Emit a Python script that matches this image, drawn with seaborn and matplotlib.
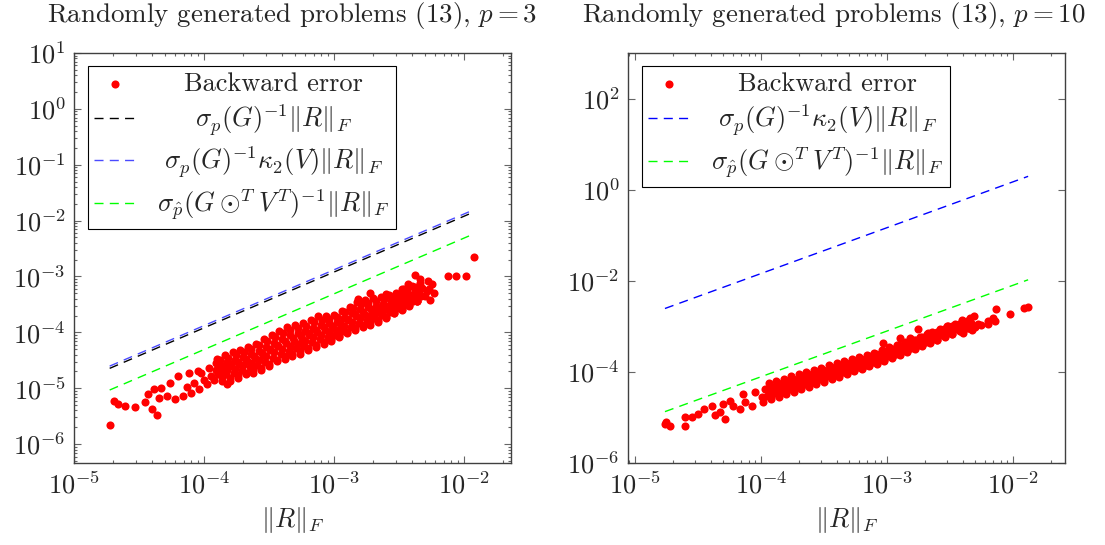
import numpy as np
import pandas as pd
import seaborn as sns
import matplotlib.pyplot as plt
from matplotlib.ticker import FixedLocator, LogLocator, NullLocator, FuncFormatter, NullFormatter

# values, stored as log10 exponents

# p = 3 : log10 ||R||_F
p3_res_exp = [
    -4.726, -4.695, -4.662, -4.605, -4.533, -4.456, -4.432, -4.399, -4.36, -4.386,
    -4.347, -4.334, -4.283, -4.265, -4.224, -4.20, -4.162, -4.116, -4.103, -4.04,
    -4.05, -3.96, -3.975, -3.91, -3.82, -4.0, -3.95, -4.08, -4.13, -4.02,
    -1.92, -2.121, -2.062, -1.987, -2.378, -2.43, -2.34, -2.25, -2.232, -2.263,
    -2.288, -2.48, -2.365, -2.6, -2.72, -2.816, -2.443,
    -3.92, -3.89, -3.91, -3.88, -3.90,
    -3.86, -3.83, -3.85, -3.82, -3.84,
    -3.80, -3.77, -3.79, -3.76, -3.78,
    -3.74, -3.71, -3.73, -3.70, -3.72,
    -3.68, -3.65, -3.67, -3.64, -3.66,
    -3.62, -3.59, -3.61, -3.58, -3.60,
    -3.56, -3.53, -3.55, -3.52, -3.54,
    -3.50, -3.47, -3.49, -3.46, -3.48,
    -3.44, -3.41, -3.43, -3.40, -3.42,
    -3.38, -3.35, -3.37, -3.34, -3.36,
    -3.32, -3.29, -3.31, -3.28, -3.30,
    -3.26, -3.23, -3.25, -3.22, -3.24,
    -3.20, -3.17, -3.19, -3.16, -3.18,
    -3.14, -3.11, -3.13, -3.10, -3.12,
    -3.08, -3.05, -3.07, -3.04, -3.06,
    -3.02, -2.99, -3.01, -2.98, -3.00,
    -2.96, -2.93, -2.95, -2.92, -2.94,
    -2.90, -2.87, -2.89, -2.86, -2.88,
    -2.84, -2.81, -2.83, -2.80, -2.82,
    -2.78, -2.75, -2.77, -2.74, -2.76,
    -2.72, -2.69, -2.71, -2.68, -2.70,
    -2.66, -2.63, -2.65, -2.62, -2.64,
    -2.60, -2.57, -2.59, -2.56, -2.58,
    -2.54, -2.51, -2.53, -2.50, -2.52,
    -2.48, -2.45, -2.47, -2.44, -2.46,
    -2.42, -2.39, -2.41, -2.38, -2.40,
    -2.36, -2.33, -2.35, -2.32, -2.34,
    -2.30, -2.27, -2.28,
]
# p = 3 : log10 backward error
p3_err_exp = [
    -5.661, -5.237, -5.29, -5.31, -5.33, -5.25, -5.11, -5.37, -5.47, -5.02,
    -5.17, -4.99, -5.14, -4.91, -5.19, -4.78, -5.13, -4.73, -5.08, -5.02,
    -4.69, -4.63, -4.93, -4.54, -4.93, -4.85, -4.78, -4.90, -4.98, -4.72,
    -2.643, -3.0, -3.0, -2.99, -2.973, -3.14, -3.04, -3.14, -3.3, -3.42,
    -3.26, -3.22, -3.44, -3.32, -3.3, -3.41, -3.26,
    -4.85, -4.75, -4.67, -4.58, -4.48,
    -4.87, -4.75, -4.64, -4.53, -4.41,
    -4.87, -4.73, -4.61, -4.49, -4.35,
    -4.81, -4.68, -4.56, -4.44, -4.31,
    -4.75, -4.62, -4.51, -4.39, -4.26,
    -4.72, -4.58, -4.46, -4.34, -4.20,
    -4.68, -4.53, -4.40, -4.27, -4.12,
    -4.60, -4.45, -4.32, -4.19, -4.04,
    -4.52, -4.38, -4.25, -4.12, -3.97,
    -4.48, -4.33, -4.19, -4.05, -3.90,
    -4.43, -4.28, -4.15, -4.01, -3.86,
    -4.39, -4.24, -4.11, -3.98, -3.83,
    -4.32, -4.18, -4.05, -3.92, -3.77,
    -4.26, -4.12, -3.99, -3.86, -3.71,
    -4.21, -4.08, -3.96, -3.83, -3.70,
    -4.16, -4.04, -3.93, -3.81, -3.69,
    -4.09, -3.97, -3.86, -3.74, -3.62,
    -4.02, -3.90, -3.78, -3.66, -3.54,
    -3.96, -3.83, -3.71, -3.58, -3.45,
    -3.91, -3.78, -3.67, -3.55, -3.42,
    -3.86, -3.74, -3.63, -3.52, -3.39,
    -3.81, -3.69, -3.59, -3.49, -3.37,
    -3.74, -3.63, -3.54, -3.44, -3.33,
    -3.66, -3.57, -3.48, -3.39, -3.29,
    -3.60, -3.50, -3.42, -3.33, -3.23,
    -3.52, -3.43, -3.35, -3.26, -3.17,
    -3.44, -3.35, -3.28, -3.20, -3.11,
    -3.35, -3.22, -3.08,
]
# p = 3 : more points in the dense part of the cloud
p3_fill_res_exp = [
    -3.86, -3.88, -3.855, -3.875,   -3.80, -3.82, -3.795, -3.815,
    -3.74, -3.76, -3.735, -3.755,   -3.68, -3.70, -3.675, -3.695,
    -3.62, -3.64, -3.615, -3.635,   -3.56, -3.58, -3.555, -3.575,
    -3.50, -3.52, -3.495, -3.515,   -3.44, -3.46, -3.435, -3.455,
    -3.38, -3.40, -3.375, -3.395,   -3.32, -3.34, -3.315, -3.335,
    -3.26, -3.28, -3.255, -3.275,   -3.20, -3.22, -3.195, -3.215,
    -3.14, -3.16, -3.135, -3.155,   -3.08, -3.10, -3.075, -3.095,
    -3.02, -3.04, -3.015, -3.035,   -2.96, -2.98, -2.955, -2.975,
    -2.90, -2.92, -2.895, -2.915,   -2.84, -2.86, -2.835, -2.855,
    -2.78, -2.80, -2.775, -2.795,   -2.72, -2.74, -2.715, -2.735,
    -2.66, -2.68, -2.655, -2.675,   -2.60, -2.62, -2.595, -2.615,
    -2.54, -2.56, -2.535, -2.555,   -2.48, -2.50, -2.475, -2.495,
    -2.42, -2.44, -2.415, -2.435,   -2.36, -2.38, -2.355, -2.375,
]
p3_fill_err_exp = [
    -4.80, -4.70, -4.61, -4.50,   -4.81, -4.68, -4.57, -4.45,
    -4.77, -4.65, -4.53, -4.40,   -4.72, -4.59, -4.48, -4.35,
    -4.67, -4.54, -4.43, -4.30,   -4.63, -4.49, -4.37, -4.23,
    -4.57, -4.43, -4.30, -4.16,   -4.49, -4.35, -4.22, -4.08,
    -4.43, -4.29, -4.15, -4.01,   -4.38, -4.24, -4.10, -3.96,
    -4.34, -4.20, -4.06, -3.92,   -4.28, -4.15, -4.02, -3.88,
    -4.22, -4.09, -3.96, -3.82,   -4.17, -4.04, -3.91, -3.78,
    -4.12, -4.00, -3.88, -3.76,   -4.07, -3.95, -3.84, -3.72,
    -4.00, -3.88, -3.76, -3.64,   -3.93, -3.81, -3.68, -3.56,
    -3.87, -3.75, -3.63, -3.50,   -3.82, -3.71, -3.59, -3.47,
    -3.78, -3.66, -3.56, -3.44,   -3.72, -3.61, -3.52, -3.41,
    -3.65, -3.56, -3.46, -3.36,   -3.58, -3.49, -3.41, -3.31,
    -3.51, -3.43, -3.34, -3.25,   -3.44, -3.35, -3.27, -3.19,
]

# p = 10 : log10 ||R||_F
p10_res_exp = [
    -4.762, -4.722, -4.75, -4.603, -4.603, -4.545, -4.498, -4.45, -4.391, -4.365,
    -4.325, -4.286, -4.299, -4.246, -4.22, -4.167, -4.14, -4.127, -4.074, -4.048,
    -3.995,
    -1.884, -1.91, -2.024, -2.138, -2.156, -2.143, -2.307, -2.196, -2.328, -2.275,
    -2.407, -2.513, -2.394, -2.751, -2.672, -2.817, -2.897, -3.034, -2.25, -2.20,
    -2.30,
    -3.98, -3.95, -3.97, -3.94,
    -3.92, -3.89, -3.91, -3.88,
    -3.86, -3.83, -3.85, -3.82,
    -3.80, -3.77, -3.79, -3.76,
    -3.74, -3.71, -3.73, -3.70,
    -3.68, -3.65, -3.67, -3.64,
    -3.62, -3.59, -3.61, -3.58,
    -3.56, -3.53, -3.55, -3.52,
    -3.50, -3.47, -3.49, -3.46,
    -3.44, -3.41, -3.43, -3.40,
    -3.38, -3.35, -3.37, -3.34,
    -3.32, -3.29, -3.31, -3.28,
    -3.26, -3.23, -3.25, -3.22,
    -3.20, -3.17, -3.19, -3.16,
    -3.14, -3.11, -3.13, -3.10,
    -3.08, -3.05, -3.07, -3.04,
    -3.02, -2.99, -3.01, -2.98,
    -2.96, -2.93, -2.95, -2.92,
    -2.90, -2.87, -2.89, -2.86,
    -2.84, -2.81, -2.83, -2.80,
    -2.78, -2.75, -2.77, -2.74,
    -2.72, -2.69, -2.71, -2.68,
    -2.66, -2.63, -2.64,
    -2.60, -2.57, -2.58,
    -2.54, -2.51, -2.52,
    -2.48, -2.45, -2.46,
    -2.42, -2.39, -2.40,
    -2.36, -2.33, -2.34,
]
# p = 10 : log10 backward error
p10_err_exp = [
    -5.15, -5.19, -5.10, -5.19, -5.0, -4.99, -4.92, -4.82, -4.75, -4.95,
    -4.89, -5.04, -4.71, -4.64, -4.75, -4.82, -4.49, -4.67, -4.75, -4.45,
    -4.56,
    -2.587, -2.60, -2.73, -2.62, -2.82, -2.89, -2.77, -2.95, -3.08, -2.94,
    -2.86, -2.99, -3.14, -3.06, -3.14, -3.25, -3.25, -3.36, -2.98, -2.88,
    -3.02,
    -4.66, -4.53, -4.38, -4.24,
    -4.60, -4.47, -4.33, -4.20,
    -4.55, -4.42, -4.28, -4.15,
    -4.49, -4.37, -4.23, -4.10,
    -4.44, -4.31, -4.18, -4.05,
    -4.38, -4.26, -4.13, -4.00,
    -4.33, -4.21, -4.08, -3.96,
    -4.27, -4.15, -4.03, -3.91,
    -4.22, -4.10, -3.98, -3.86,
    -4.16, -4.05, -3.93, -3.81,
    -4.11, -4.00, -3.88, -3.77,
    -4.05, -3.94, -3.83, -3.72,
    -3.99, -3.89, -3.78, -3.67,
    -3.94, -3.84, -3.73, -3.62,
    -3.88, -3.78, -3.68, -3.58,
    -3.82, -3.72, -3.62, -3.52,
    -3.76, -3.66, -3.56, -3.46,
    -3.69, -3.60, -3.50, -3.40,
    -3.62, -3.53, -3.44, -3.35,
    -3.56, -3.47, -3.38, -3.29,
    -3.49, -3.41, -3.31, -3.23,
    -3.43, -3.35, -3.25, -3.17,
    -3.36, -3.24, -3.12,
    -3.30, -3.18, -3.06,
    -3.23, -3.11, -3.00,
    -3.17, -3.05, -2.94,
    -3.10, -2.99, -2.88,
    -3.04, -2.93, -2.82,
]
# p = 10 : more points in the dense part of the cloud
p10_fill_res_exp = [
    -3.92, -3.94, -3.925,   -3.86, -3.88, -3.865,   -3.80, -3.82, -3.805,
    -3.74, -3.76, -3.745,   -3.68, -3.70, -3.685,   -3.62, -3.64, -3.625,
    -3.56, -3.58, -3.565,   -3.50, -3.52, -3.505,   -3.44, -3.46, -3.445,
    -3.38, -3.40, -3.385,   -3.32, -3.34, -3.325,   -3.26, -3.28, -3.265,
    -3.20, -3.22, -3.205,   -3.14, -3.16, -3.145,   -3.08, -3.10, -3.085,
    -3.02, -3.04, -3.025,   -2.96, -2.98, -2.965,   -2.90, -2.92, -2.905,
    -2.84, -2.86, -2.845,   -2.78, -2.80, -2.785,   -2.72, -2.74, -2.725,
    -2.66, -2.68, -2.665,   -2.60, -2.62, -2.605,   -2.54, -2.56, -2.545,
    -2.48, -2.50, -2.485,   -2.42, -2.44, -2.425,   -2.36, -2.38, -2.365,
]
p10_fill_err_exp = [
    -4.56, -4.43, -4.30,   -4.50, -4.37, -4.25,   -4.44, -4.32, -4.20,
    -4.39, -4.27, -4.15,   -4.34, -4.22, -4.10,   -4.29, -4.17, -4.05,
    -4.23, -4.12, -4.01,   -4.18, -4.06, -3.95,   -4.12, -4.01, -3.90,
    -4.07, -3.96, -3.85,   -4.02, -3.91, -3.80,   -3.96, -3.86, -3.76,
    -3.91, -3.81, -3.71,   -3.86, -3.75, -3.65,   -3.80, -3.70, -3.60,
    -3.74, -3.64, -3.54,   -3.67, -3.58, -3.49,   -3.61, -3.52, -3.42,
    -3.55, -3.46, -3.36,   -3.48, -3.39, -3.30,   -3.42, -3.33, -3.24,
    -3.35, -3.27, -3.19,   -3.29, -3.21, -3.13,   -3.22, -3.14, -3.06,
    -3.16, -3.08, -3.00,   -3.10, -3.02, -2.94,   -3.04, -2.96, -2.88,
]

# bound lines (end points)
p3_line_x = [1.88e-5, 1.11e-2]
p3_bound_black = [2.27e-5, 1.33e-2]
p3_bound_blue = [2.49e-5, 1.46e-2]
p3_bound_green = [9.3e-6, 5.4e-3]

p10_line_x = [1.73e-5, 1.32e-2]
p10_bound_blue = [2.46e-3, 1.96]
p10_bound_green = [1.34e-5, 1.05e-2]

# axis ticks
p3_xticks = [1e-5, 1e-4, 1e-3, 1e-2]
p3_yticks = [1e-6, 1e-5, 1e-4, 1e-3, 1e-2, 1e-1, 1e0, 1e1]
p10_xticks = [1e-5, 1e-4, 1e-3, 1e-2]
p10_yticks = [1e-6, 1e-4, 1e-2, 1e0, 1e2]

lab_back = 'Backward error'
lab_black = r'$\sigma_p(G)^{-1}\|R\|_F$'
lab_blue = r'$\sigma_p(G)^{-1}\kappa_2(V)\|R\|_F$'
lab_green = r'$\sigma_{\hat{p}}(G\:{\odot}^{T}\:V^{T})^{-1}\|R\|_F$'

sns.set_style('ticks')
plt.rcParams['font.family'] = ['cmr10', 'DejaVu Serif']
plt.rcParams['mathtext.fontset'] = 'cm'
plt.rcParams['axes.formatter.use_mathtext'] = True

FS = 19
dash = (0, (6.5, 4.5))
MS = 34

df3 = pd.DataFrame({'res': 10 ** np.array(p3_res_exp + p3_fill_res_exp),
                    'err': 10 ** np.array(p3_err_exp + p3_fill_err_exp)})
df10 = pd.DataFrame({'res': 10 ** np.array(p10_res_exp + p10_fill_res_exp),
                     'err': 10 ** np.array(p10_err_exp + p10_fill_err_exp)})

fig = plt.figure(figsize=(11.05, 5.45), dpi=100)
ax1 = fig.add_axes([0.067, 0.1505, 0.3955, 0.7523])
ax2 = fig.add_axes([0.5683, 0.1505, 0.3955, 0.7523])

for ax in (ax1, ax2):
    ax.set_xscale('log')
    ax.set_yscale('log')

sns.scatterplot(data=df3, x='res', y='err', ax=ax1, color='#ff0000', s=MS,
                linewidth=0, label=lab_back, zorder=3)
sns.lineplot(x=p3_line_x, y=p3_bound_black, ax=ax1, color='black', lw=1,
             linestyle=dash, label=lab_black)
sns.lineplot(x=p3_line_x, y=p3_bound_blue, ax=ax1, color='#4a4aff', lw=1,
             linestyle=dash, label=lab_blue)
sns.lineplot(x=p3_line_x, y=p3_bound_green, ax=ax1, color='#00ff00', lw=1,
             linestyle=dash, label=lab_green)

sns.scatterplot(data=df10, x='res', y='err', ax=ax2, color='#ff0000', s=MS,
                linewidth=0, label=lab_back, zorder=3)
sns.lineplot(x=p10_line_x, y=p10_bound_blue, ax=ax2, color='#0000ff', lw=1,
             linestyle=dash, label=lab_blue)
sns.lineplot(x=p10_line_x, y=p10_bound_green, ax=ax2, color='#00ff00', lw=1,
             linestyle=dash, label=lab_green)

ax1.set_xlim(1e-5, 2.3e-2)
ax1.set_ylim(4.6e-7, 10)
ax2.set_xlim(8.8e-6, 2.59e-2)
ax2.set_ylim(1e-6, 1e3)

fmt = FuncFormatter(lambda v, p: r'$10^{%d}$' % int(round(np.log10(v))))

for ax, xt, yt in ((ax1, p3_xticks, p3_yticks), (ax2, p10_xticks, p10_yticks)):
    ax.xaxis.set_major_locator(FixedLocator(xt))
    ax.xaxis.set_minor_locator(LogLocator(base=10, subs=range(2, 10), numticks=20))
    ax.xaxis.set_major_formatter(fmt)
    ax.xaxis.set_minor_formatter(NullFormatter())
    ax.yaxis.set_major_locator(FixedLocator(yt))
    ax.yaxis.set_major_formatter(fmt)
    ax.yaxis.set_minor_formatter(NullFormatter())
    ax.tick_params(which='both', direction='in', top=True, right=True,
                   color='#666666', width=0.8, labelsize=FS, pad=6)
    ax.tick_params(which='major', length=5)
    ax.tick_params(which='minor', length=2.5)
    for sp in ax.spines.values():
        sp.set_color('#404040')
        sp.set_linewidth(1)
    ax.set_xlabel(r'$\|R\|_F$', fontsize=FS, labelpad=5)
    ax.set_ylabel('')

ax1.yaxis.set_minor_locator(LogLocator(base=10, subs=range(2, 10), numticks=20))
ax2.yaxis.set_minor_locator(NullLocator())

ax1.set_title('Randomly generated problems (13), $p=3$', fontsize=19.4, pad=22)
ax2.set_title('Randomly generated problems (13), $p=10$', fontsize=19.4, pad=22,
              x=0.47)

legs = []
for ax in (ax1, ax2):
    leg = ax.legend(loc='upper left', bbox_to_anchor=(0.032, 0.968), borderaxespad=0,
                    fancybox=False, edgecolor='black', framealpha=1, fontsize=FS,
                    handlelength=1.6, labelspacing=0.25, borderpad=0.22,
                    handletextpad=0.8)
    leg.get_frame().set_linewidth(0.8)
    legs.append(leg)

# centre the entry texts inside the legend box, as in the original
fig.canvas.draw()
rend = fig.canvas.get_renderer()
for leg in legs:
    widths = [t.get_window_extent(rend).width for t in leg.get_texts()]
    wmax = max(widths)
    rows = leg._legend_handle_box.get_children()[0].get_children()
    for row, w in zip(rows, widths):
        row.sep += (wmax - w) / 2 * 72 / fig.dpi

fig.savefig('out.png', dpi=100)
